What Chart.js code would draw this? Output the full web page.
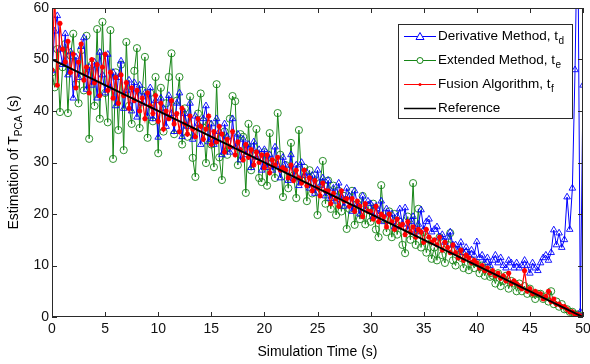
<!DOCTYPE html>
<html>
<head>
<meta charset="utf-8">
<script src="https://cdn.jsdelivr.net/npm/chart.js@4.4.0/dist/chart.umd.min.js"></script>
<style>
html,body{margin:0;padding:0;background:#fff;}
#c{display:block;}
</style>
</head>
<body>
<canvas id="c" width="590" height="364"></canvas>
<script>
// ---- data ----
const timeStep = 0.25; // s, sampling of the estimates
const derivative = [
47.8,55.5,58.5,52.0,49.0,55.0,47.0,51.5,
42.5,50.5,46.5,52.5,54.2,44.2,48.5,45.0,
49.5,42.5,51.4,47.0,43.5,51.0,44.5,47.5,
41.0,46.5,49.7,40.5,44.0,46.0,40.0,45.5,
38.8,45.0,41.5,43.5,39.0,44.5,38.5,42.0,
34.9,42.5,40.5,37.0,43.0,39.5,36.0,41.5,
43.5,35.0,39.5,37.0,41.5,34.5,39.0,37.5,
33.5,38.5,41.0,34.0,37.5,33.5,38.5,36.0,
31.5,37.5,35.0,32.0,38.5,33.0,35.5,30.5,
34.5,31.5,33.5,29.0,34.0,31.0,32.5,28.5,
32.5,29.0,31.5,28.5,33.0,29.5,27.0,31.0,
29.5,26.5,31.5,27.0,29.5,25.5,30.0,27.5,
28.0,25.0,27.5,24.0,28.5,25.5,27.0,23.5,
26.5,23.0,25.0,22.5,26.0,23.5,21.5,25.0,
23.5,20.5,24.5,22.0,20.0,23.5,21.0,22.5,
22.0,19.5,21.5,20.0,22.5,18.5,21.0,20.0,
20.0,17.5,19.5,21.0,18.0,21.2,17.0,18.5,
19.5,16.5,18.0,20.8,17.0,18.5,19.0,16.5,
17.0,17.5,15.5,16.0,14.5,15.5,16.5,14.0,
14.0,13.0,14.5,12.5,13.5,12.0,13.0,12.0,
14.6,11.5,12.0,10.5,11.5,10.0,11.0,12.0,
10.5,11.5,10.0,9.5,11.0,10.5,9.5,10.5,
9.5,10.0,11.0,10.0,8.5,10.5,9.5,9.0,
10.5,11.5,12.0,11.0,12.5,16.9,14.0,16.3,
13.5,15.0,23.3,17.0,25.0,48.0,80.0,1.0,45.0
];
const extended = [
47.5,44.6,52.0,39.8,48.5,53.0,39.6,50.8,
55.0,45.2,41.5,51.8,44.0,54.6,34.6,49.0,
41.0,55.9,38.5,57.3,43.5,37.8,55.7,30.7,
47.5,36.3,49.0,32.4,53.4,41.0,37.5,47.8,
52.2,36.7,44.0,50.5,34.8,43.5,38.0,46.6,
31.8,44.5,36.0,41.5,46.6,51.2,35.5,42.0,
46.6,33.5,40.5,35.0,42.8,30.9,27.2,39.5,
43.4,38.0,29.9,37.5,33.5,29.1,45.2,31.0,
26.6,36.0,31.5,38.5,42.9,41.9,29.5,35.5,
35.0,24.1,37.5,28.5,33.0,36.5,27.0,26.2,
32.0,25.5,35.7,30.0,27.0,39.6,31.5,23.3,
29.5,25.0,33.8,27.5,23.1,36.3,26.5,29.0,
22.5,28.5,24.0,27.5,19.8,26.0,30.3,22.0,
26.5,21.0,25.5,19.8,24.5,20.5,23.5,17.1,
21.0,24.5,17.9,22.0,19.0,23.5,18.0,21.5,
18.5,22.0,17.0,15.5,25.6,19.0,16.5,20.5,
15.5,20.0,16.0,18.5,14.0,12.4,19.5,15.0,
26.0,14.0,21.0,13.5,16.5,12.5,15.0,11.3,
13.5,11.0,15.5,12.0,10.5,14.0,16.3,11.0,
10.0,13.0,11.5,9.5,12.5,9.1,11.0,9.5,
10.5,8.5,10.0,8.0,9.5,7.8,8.0,6.5,
8.5,6.0,7.0,8.0,5.5,7.0,6.5,5.0,
6.5,5.0,6.0,4.5,5.5,4.5,3.5,4.5,
4.5,3.5,4.0,3.0,5.0,2.5,3.0,2.0,
2.5,1.5,1.5,1.0,1.0,0.5,0.5,0.3,0.0
];
const fusion = [
48.0,63.0,45.0,57.0,52.0,49.5,53.5,47.5,
51.0,44.5,49.5,53.0,46.0,48.5,43.5,50.0,
45.5,49.0,43.0,48.5,51.0,44.0,47.5,42.5,
46.5,41.5,47.0,43.0,45.5,40.5,44.5,42.0,
44.0,40.0,42.5,38.5,43.5,41.0,39.5,43.0,
38.0,41.5,36.5,40.0,38.5,42.0,37.5,39.5,
36.0,40.5,37.5,35.5,39.0,36.5,35.0,38.5,
37.0,34.5,36.5,39.0,33.5,36.0,34.0,37.0,
35.5,32.0,34.5,33.0,36.0,31.5,34.0,32.5,
30.5,33.5,31.0,32.5,29.5,32.0,30.0,31.5,
29.0,31.5,28.0,30.5,29.5,31.0,28.5,29.0,
28.5,27.0,29.5,26.5,28.5,27.0,26.0,28.5,
25.5,27.0,24.5,26.5,25.0,23.5,26.0,24.5,
24.5,22.0,24.0,23.0,21.5,24.5,22.5,23.0,
21.5,23.0,20.5,22.5,21.5,19.5,22.0,20.5,
20.5,19.0,21.5,18.5,20.0,19.5,17.5,20.0,
18.5,17.0,19.0,17.5,18.0,16.0,18.5,16.5,
17.5,15.5,17.0,16.5,14.5,17.0,15.5,14.5,
15.0,14.0,15.5,13.0,14.5,13.5,12.5,14.0,
12.5,11.5,13.0,11.0,12.0,11.5,10.5,11.0,
10.5,9.5,10.0,9.0,9.5,8.5,9.0,8.0,
8.5,7.5,8.0,7.0,8.5,6.5,7.0,6.5,
6.0,5.5,9.0,5.0,5.5,4.5,5.0,4.5,
4.5,3.5,4.0,5.0,3.0,3.5,2.5,2.5,
2.0,2.0,1.5,1.0,1.0,0.5,0.5,0.2,0.0
];
const refTimes = [0, 50];
const refValues = [50, 0];
const xTickValues = [0,5,10,15,20,25,30,35,40,45,50];
const yTickValues = [0,10,20,30,40,50,60];
const seriesNames = ['Derivative Method, t', 'Extended Method, t', 'Fusion Algorithm, t', 'Reference'];
const seriesSubs = ['d', 'e', 'f', ''];
const xTitle = 'Simulation Time (s)';
const yTitleMain = 'Estimation of T', yTitleSub = 'PCA', yTitleEnd = ' (s)';

// ---- build ----
const times = derivative.map((_, i) => i * timeStep);
const toXY = arr => arr.map((v, i) => ({x: times[i], y: v}));
const COL = {d:'#0000ff', e:'#168516', f:'#ff0000', r:'#000000'};
const FONT = '"Liberation Sans", Arial, sans-serif';

const decor = {
  id: 'decor',
  afterDraw(chart) {
    const {ctx, chartArea: a, scales: {x, y}} = chart;
    ctx.save();
    ctx.strokeStyle = '#2a2a2a';
    ctx.lineWidth = 1;
    ctx.strokeRect(Math.round(a.left) + 0.5, Math.round(a.top) + 0.5,
                   Math.round(a.right - a.left) - 1, Math.round(a.bottom - a.top) - 1);
    ctx.beginPath();
    const TL = 5;
    xTickValues.forEach(v => {
      const px = Math.round(x.getPixelForValue(v)) + 0.5;
      ctx.moveTo(px, a.bottom); ctx.lineTo(px, a.bottom - TL);
      ctx.moveTo(px, a.top); ctx.lineTo(px, a.top + TL);
    });
    yTickValues.forEach(v => {
      const py = Math.round(y.getPixelForValue(v)) + 0.5;
      ctx.moveTo(a.left, py); ctx.lineTo(a.left + TL, py);
      ctx.moveTo(a.right, py); ctx.lineTo(a.right - TL, py);
    });
    ctx.stroke();

    // legend
    const L = {x: 398, y: 24, w: 174, h: 94};
    ctx.fillStyle = '#fff';
    ctx.fillRect(L.x, L.y, L.w, L.h);
    ctx.strokeStyle = '#2a2a2a';
    ctx.strokeRect(L.x + 0.5, L.y + 0.5, L.w, L.h);
    const cols = [COL.d, COL.e, COL.f, COL.r];
    const rowY = [36, 60, 84, 108];
    ctx.textBaseline = 'middle';
    for (let i = 0; i < 4; i++) {
      const yy = rowY[i] + 0.5;
      ctx.strokeStyle = cols[i];
      ctx.lineWidth = i === 3 ? 1.5 : 1;
      ctx.beginPath(); ctx.moveTo(404, yy); ctx.lineTo(436, yy); ctx.stroke();
      ctx.lineWidth = 1;
      const cx = 420;
      if (i === 0) {
        ctx.fillStyle = '#fff';
        ctx.beginPath(); ctx.moveTo(cx, yy - 4); ctx.lineTo(cx + 4, yy + 3); ctx.lineTo(cx - 4, yy + 3); ctx.closePath();
        ctx.fill(); ctx.stroke();
      } else if (i === 1) {
        ctx.fillStyle = '#fff';
        ctx.beginPath(); ctx.arc(cx, yy, 3, 0, Math.PI * 2); ctx.fill(); ctx.stroke();
      } else if (i === 2) {
        ctx.fillStyle = cols[i];
        ctx.beginPath(); ctx.arc(cx, yy, 1.5, 0, Math.PI * 2); ctx.fill();
      }
      ctx.fillStyle = '#000';
      ctx.font = '13.5px ' + FONT;
      ctx.textAlign = 'left';
      ctx.fillText(seriesNames[i], 438, rowY[i]);
      if (seriesSubs[i]) {
        const w = ctx.measureText(seriesNames[i]).width;
        ctx.font = '10px ' + FONT;
        ctx.fillText(seriesSubs[i], 438 + w + 0.5, rowY[i] + 5);
      }
    }

    // axis titles
    ctx.fillStyle = '#000';
    ctx.textBaseline = 'middle';
    ctx.font = '14px ' + FONT;
    ctx.textAlign = 'center';
    ctx.fillText(xTitle, (a.left + a.right) / 2, 352);

    ctx.save();
    ctx.translate(14, (a.top + a.bottom) / 2);
    ctx.rotate(-Math.PI / 2);
    ctx.font = '14px ' + FONT;
    const w1 = ctx.measureText(yTitleMain).width;
    const w3 = ctx.measureText(yTitleEnd).width;
    ctx.font = '10px ' + FONT;
    const w2 = ctx.measureText(yTitleSub).width;
    let sx = -(w1 + w2 + w3) / 2;
    ctx.textAlign = 'left';
    ctx.font = '14px ' + FONT;
    ctx.fillText(yTitleMain, sx, 0);
    ctx.font = '10px ' + FONT;
    ctx.fillText(yTitleSub, sx + w1, 5);
    ctx.font = '14px ' + FONT;
    ctx.fillText(yTitleEnd, sx + w1 + w2, 0);
    ctx.restore();
    ctx.restore();
  }
};

new Chart(document.getElementById('c'), {
  type: 'line',
  data: {
    datasets: [
      {label: seriesNames[0], data: toXY(derivative), borderColor: COL.d, borderWidth: 1,
       pointStyle: 'triangle', pointRadius: 3.8, pointBorderColor: COL.d, pointBackgroundColor: 'rgba(0,0,0,0)',
       pointBorderWidth: 0.9, order: 2},
      {label: seriesNames[1], data: toXY(extended), borderColor: COL.e, borderWidth: 1,
       pointStyle: 'circle', pointRadius: 3.6, pointBorderColor: COL.e, pointBackgroundColor: 'rgba(0,0,0,0)',
       pointBorderWidth: 0.9, order: 3},
      {label: seriesNames[2], data: toXY(fusion), borderColor: COL.f, borderWidth: 1.2,
       pointStyle: 'star', pointRadius: 2.6, pointBorderColor: COL.f, pointBackgroundColor: COL.f,
       pointBorderWidth: 1.5, order: 1},
      {label: seriesNames[3], data: refTimes.map((t, i) => ({x: t, y: refValues[i]})), borderColor: COL.r,
       borderWidth: 2, pointRadius: 0, order: 0}
    ]
  },
  options: {
    responsive: false,
    animation: false,
    devicePixelRatio: 1,
    layout: {padding: {left: 0, right: 7, top: 8, bottom: 0}},
    elements: {line: {tension: 0}},
    plugins: {legend: {display: false}, tooltip: {enabled: false}},
    scales: {
      x: {
        type: 'linear', min: 0, max: 50,
        grid: {display: false, drawTicks: false},
        border: {display: false},
        afterBuildTicks: s => { s.ticks = xTickValues.map(v => ({value: v})); },
        afterFit: s => { s.height = 47; s.paddingLeft = 0; s.paddingRight = 0; },
        ticks: {font: {family: FONT, size: 14}, color: '#111', padding: 4, maxRotation: 0, autoSkip: false}
      },
      y: {
        type: 'linear', min: 0, max: 60,
        grid: {display: false, drawTicks: false},
        border: {display: false},
        afterBuildTicks: s => { s.ticks = yTickValues.map(v => ({value: v})); },
        afterFit: s => { s.width = 52; s.paddingTop = 0; s.paddingBottom = 0; },
        ticks: {font: {family: FONT, size: 14}, color: '#111', padding: 3}
      }
    }
  },
  plugins: [decor]
});
</script>
</body>
</html>
